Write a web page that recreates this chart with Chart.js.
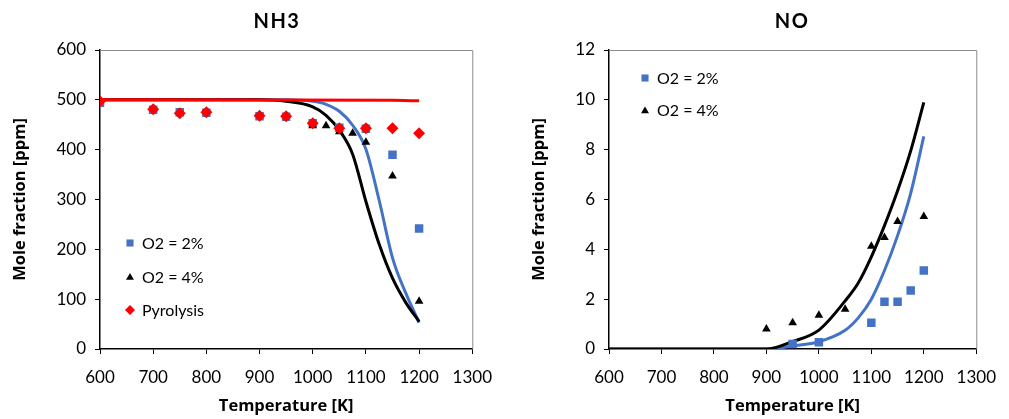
<!DOCTYPE html>
<html>
<head>
<meta charset="utf-8">
<script src="https://cdn.jsdelivr.net/npm/chart.js@4.4.1/dist/chart.umd.min.js"></script>
<style>
  html, body { margin: 0; padding: 0; background: #fff; }
  #wrap { position: relative; width: 1009px; height: 419px; }
  #c1 { position: absolute; left: 0; top: 0; }
  #c2 { position: absolute; left: 505px; top: 0; }
</style>
</head>
<body>
<div id="wrap">
  <canvas id="c1" width="505" height="419"></canvas>
  <canvas id="c2" width="504" height="419"></canvas>
</div>
<script>
// ---------- DATA ----------
// NH3 panel
const nh3Title = 'NH3';
const nh3ExpT_2 = [600, 700, 750, 800, 900, 950, 1000, 1050, 1100, 1150, 1200];
const nh3Exp_2  = [494, 480, 475, 474, 467, 466, 453, 444, 442, 390, 242];
const nh3ExpT_4 = [1000, 1025, 1050, 1075, 1100, 1150, 1200];
const nh3Exp_4  = [448, 448, 436, 433, 415, 347, 96];
const nh3ExpT_pyr = [600, 700, 750, 800, 900, 950, 1000, 1050, 1100, 1150, 1200];
const nh3Exp_pyr  = [497, 481, 473, 475, 468, 467, 453, 443, 443, 443, 433];
const nh3ModT_2 = [600, 950, 1000, 1025, 1050, 1075, 1100, 1125, 1150, 1175, 1200];
const nh3Mod_2  = [500, 500, 497, 491, 477, 449, 401, 298, 183, 112, 53];
const nh3ModT_4 = [600, 900, 950, 1000, 1025, 1050, 1075, 1100, 1125, 1150, 1175, 1200];
const nh3Mod_4  = [500, 500, 497, 486, 469, 439, 391, 296, 210, 142, 93, 55];
const nh3ModT_pyr = [600, 1150, 1200];
const nh3Mod_pyr  = [500, 499, 498];

// NO panel
const noTitle = 'NO';
const noExpT_2 = [950, 1000, 1100, 1125, 1150, 1175, 1200];
const noExp_2  = [0.2, 0.27, 1.05, 1.9, 1.9, 2.35, 3.15];
const noExpT_4 = [900, 950, 1000, 1050, 1100, 1125, 1150, 1200];
const noExp_4  = [0.8, 1.05, 1.35, 1.6, 4.12, 4.47, 5.12, 5.32];
const noModT_2 = [600, 905, 950, 1000, 1050, 1075, 1100, 1125, 1150, 1175, 1200];
const noMod_2  = [0, 0, 0.12, 0.29, 0.75, 1.25, 2.0, 3.15, 4.55, 6.25, 8.53];
const noModT_4 = [600, 900, 950, 1000, 1050, 1075, 1100, 1125, 1150, 1175, 1200];
const noMod_4  = [0, 0, 0.3, 0.76, 1.93, 2.65, 3.7, 4.95, 6.35, 7.95, 9.9];

// axis ticks
const xTicks = [600, 700, 800, 900, 1000, 1100, 1200, 1300];
const nh3YTicks = [0, 100, 200, 300, 400, 500, 600];
const noYTicks = [0, 2, 4, 6, 8, 10, 12];

const labels2 = 'O2 = 2%';
const labels4 = 'O2 = 4%';
const labelsPyr = 'Pyrolysis';
const xTitle = 'Temperature [K]';
const yTitle = 'Mole fraction [ppm]';

// ---------- HELPERS ----------
const BLUE = '#4472C4', RED = '#FF0000', BLACK = '#000000';
const FONT = 'Lato, "Open Sans", "DejaVu Sans", sans-serif';
const TFONT = '"Open Sans", Lato, "DejaVu Sans", sans-serif';
const zip = (xs, ys) => xs.map((x, i) => ({ x: x, y: ys[i] }));

function scatterSet(label, xs, ys, color, style, r) {
  return { label, data: zip(xs, ys), showLine: false, pointStyle: style,
    pointRadius: r, pointHoverRadius: r, backgroundColor: color, borderColor: color,
    borderWidth: 0, inLegend: true };
}
function lineSet(xs, ys, color) {
  return { label: '', data: zip(xs, ys), showLine: true, pointRadius: 0, pointHoverRadius: 0,
    borderColor: color, backgroundColor: color, borderWidth: 3, fill: false,
    cubicInterpolationMode: 'monotone', inLegend: false };
}

const framePlugin = {
  id: 'frame',
  beforeDatasetsDraw(chart) {
    const { ctx, chartArea: a } = chart;
    ctx.save();
    ctx.strokeStyle = '#8c8c8c';
    ctx.lineWidth = 1;
    ctx.beginPath();
    ctx.moveTo(a.left, a.top + 0.5);
    ctx.lineTo(a.right + 0.5, a.top + 0.5);
    ctx.lineTo(a.right + 0.5, a.bottom);
    ctx.stroke();
    ctx.restore();
  }
};

function drawMarker(ctx, style, color, x, y, r) {
  ctx.save();
  ctx.fillStyle = color;
  ctx.beginPath();
  if (style === 'rect') {
    const s = r * Math.SQRT1_2;
    ctx.rect(x - s, y - s, 2 * s, 2 * s);
  } else if (style === 'triangle') {
    ctx.moveTo(x, y - r);
    ctx.lineTo(x + r * Math.sin(Math.PI / 3), y + r / 2);
    ctx.lineTo(x - r * Math.sin(Math.PI / 3), y + r / 2);
    ctx.closePath();
  } else if (style === 'rectRot') {
    ctx.moveTo(x, y - r);
    ctx.lineTo(x + r, y);
    ctx.lineTo(x, y + r);
    ctx.lineTo(x - r, y);
    ctx.closePath();
  }
  ctx.fill();
  ctx.restore();
}

// title + in-plot legend, legend entries listed in legendSets order
function makeDecor(title, titleX, legendX, legendY, legendStep, legendSets) {
  return {
    id: 'decor',
    afterDraw(chart) {
      const ctx = chart.ctx;
      ctx.save();
      ctx.fillStyle = '#000';
      ctx.font = 'bold 20px ' + FONT;
      ctx.textAlign = 'center';
      ctx.textBaseline = 'middle';
      try { ctx.letterSpacing = '1.5px'; } catch (e) {}
      ctx.fillText(title, titleX, 22);
      try { ctx.letterSpacing = '0px'; } catch (e) {}
      ctx.font = '16px ' + FONT;
      ctx.textAlign = 'left';
      let y = legendY;
      legendSets.forEach(i => {
        const ds = chart.data.datasets[i];
        const rr = ds.pointStyle === 'triangle' ? 4.6 : 5;
        drawMarker(ctx, ds.pointStyle, ds.backgroundColor, legendX, y + (ds.pointStyle === 'triangle' ? 1 : 0), rr);
        ctx.fillStyle = '#000';
        ctx.fillText(ds.label, legendX + 12, y + 1);
        y += legendStep;
      });
      ctx.restore();
    }
  };
}

function axisOpts(min, max, ticksArr, isX, titleText, titlePad, fixedSize) {
  return {
    type: 'linear',
    position: isX ? 'bottom' : 'left',
    min, max,
    afterBuildTicks(scale) { scale.ticks = ticksArr.map(v => ({ value: v })); },
    afterFit(scale) { if (isX) scale.height = fixedSize; else scale.width = fixedSize; },
    ticks: {
      autoSkip: false, maxRotation: 0, minRotation: 0,
      color: '#000', padding: isX ? 13 : 9,
      font: { family: FONT, size: 17 },
      callback: v => String(v)
    },
    grid: { drawOnChartArea: false, drawTicks: true, tickLength: 5, color: '#000', lineWidth: 1 },
    border: { display: true, color: '#000', width: 1.5 },
    title: {
      display: true, text: titleText, color: '#000',
      font: { family: TFONT, size: 16.5, weight: 'bold' },
      padding: titlePad
    }
  };
}

// ---------- CHART 1 : NH3 ----------
new Chart(document.getElementById('c1'), {
  type: 'scatter',
  data: {
    datasets: [
      Object.assign(scatterSet(labelsPyr, nh3ExpT_pyr, nh3Exp_pyr, RED, 'rectRot', 6), { order: 0 }),
      Object.assign(scatterSet(labels4, nh3ExpT_4, nh3Exp_4, BLACK, 'triangle', 5), { order: 1 }),
      Object.assign(scatterSet(labels2, nh3ExpT_2, nh3Exp_2, BLUE, 'rect', 6), { order: 2 }),
      Object.assign(lineSet(nh3ModT_pyr, nh3Mod_pyr, RED), { order: 3 }),
      Object.assign(lineSet(nh3ModT_4, nh3Mod_4, BLACK), { order: 4 }),
      Object.assign(lineSet(nh3ModT_2, nh3Mod_2, BLUE), { order: 5 })
    ]
  },
  options: {
    responsive: false, animation: false, devicePixelRatio: 1,
    layout: { padding: { top: 50, right: 28, left: 0, bottom: 0 } },
    plugins: { legend: { display: false }, tooltip: { enabled: false }, title: { display: false } },
    scales: {
      x: axisOpts(600, 1300, xTicks, true, xTitle, { top: 0, bottom: 3 }, 70),
      y: axisOpts(0, 600, nh3YTicks, false, yTitle, { top: 10, bottom: 0 }, 100)
    }
  },
  plugins: [framePlugin, makeDecor(nh3Title, 277, 130, 243, 33.5, [2, 1, 0])]
});

// ---------- CHART 2 : NO ----------
new Chart(document.getElementById('c2'), {
  type: 'scatter',
  data: {
    datasets: [
      scatterSet(labels2, noExpT_2, noExp_2, BLUE, 'rect', 6),
      scatterSet(labels4, noExpT_4, noExp_4, BLACK, 'triangle', 5),
      lineSet(noModT_4, noMod_4, BLACK),
      lineSet(noModT_2, noMod_2, BLUE)
    ]
  },
  options: {
    responsive: false, animation: false, devicePixelRatio: 1,
    layout: { padding: { top: 50, right: 22, left: 0, bottom: 0 } },
    plugins: { legend: { display: false }, tooltip: { enabled: false }, title: { display: false } },
    scales: {
      x: axisOpts(600, 1300, xTicks, true, xTitle, { top: 0, bottom: 3 }, 70),
      y: axisOpts(0, 12, noYTicks, false, yTitle, { top: 24, bottom: 0 }, 104)
    }
  },
  plugins: [framePlugin, makeDecor(noTitle, 792 - 505, 645 - 505, 78, 32, [0, 1])]
});
</script>
</body>
</html>
